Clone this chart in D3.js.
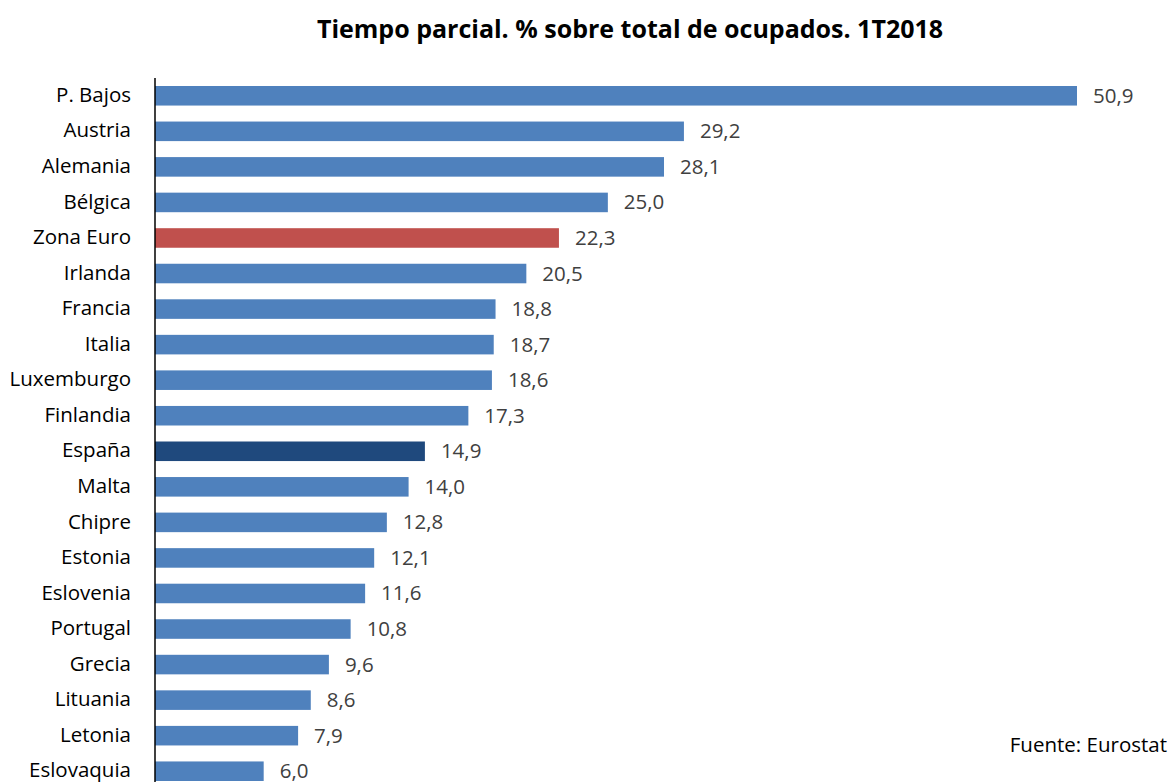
<!DOCTYPE html>
<html>
<head>
<meta charset="utf-8">
<script src="https://cdn.jsdelivr.net/npm/d3@7"></script>
<style>
  body { margin: 0; background: #fff; }
  text { font-family: "Open Sans", sans-serif; }
</style>
</head>
<body>
<script>
const countries = ['P. Bajos', 'Austria', 'Alemania', 'Bélgica', 'Zona Euro', 'Irlanda', 'Francia', 'Italia',
  'Luxemburgo', 'Finlandia', 'España', 'Malta', 'Chipre', 'Estonia', 'Eslovenia', 'Portugal', 'Grecia',
  'Lituania', 'Letonia', 'Eslovaquia'];
const values = [50.9, 29.2, 28.1, 25.0, 22.3, 20.5, 18.8, 18.7, 18.6, 17.3, 14.9, 14.0, 12.8, 12.1, 11.6, 10.8,
  9.6, 8.6, 7.9, 6.0];
const highlights = { 'Zona Euro': '#c0504d', 'España': '#1f497d' };

const width = 1168;
const height = 782;
const left = 155;

const data = countries.map((c, i) => ({ country: c, value: values[i] }));

const svg = d3.select('body').append('svg').attr('width', width).attr('height', height);

const xScale = d3.scaleLinear().domain([0, d3.max(values)]).range([left, 1077]);

const yScale = d3
  .scaleBand()
  .domain(countries)
  .range([78, 789])
  .paddingInner(0.45)
  .paddingOuter(0.225);

svg
  .append('text')
  .attr('x', 630)
  .attr('y', 38)
  .attr('text-anchor', 'middle')
  .attr('font-size', 25)
  .attr('font-weight', 'bold')
  .attr('fill', '#000')
  .text('Tiempo parcial. % sobre total de ocupados. 1T2018');

svg
  .selectAll('rect.bar')
  .data(data)
  .enter()
  .append('rect')
  .attr('class', 'bar')
  .attr('x', xScale(0))
  .attr('y', d => yScale(d.country))
  .attr('width', d => xScale(d.value) - xScale(0))
  .attr('height', yScale.bandwidth())
  .attr('fill', d => highlights[d.country] || '#4f81bd');

svg
  .selectAll('text.value')
  .data(data)
  .enter()
  .append('text')
  .attr('class', 'value')
  .attr('x', d => xScale(d.value) + 16)
  .attr('y', d => yScale(d.country) + yScale.bandwidth() / 2 + 7)
  .attr('font-size', 20.5)
  .attr('fill', '#404040')
  .text(d => d.value.toFixed(1).replace('.', ','));

const yAxis = svg
  .append('g')
  .attr('transform', `translate(${left}, 0)`)
  .call(d3.axisLeft(yScale).tickSize(0).tickPadding(24));

yAxis.select('.domain').attr('d', `M0,78V${height}`).attr('stroke', '#000').attr('stroke-width', 1.5);
yAxis
  .selectAll('.tick text')
  .attr('font-family', '"Open Sans", sans-serif')
  .attr('font-size', 20.5)
  .attr('dy', '0.3em')
  .attr('fill', '#000');

svg
  .append('text')
  .attr('x', 1167)
  .attr('y', 752)
  .attr('text-anchor', 'end')
  .attr('font-size', 20.5)
  .attr('fill', '#000')
  .text('Fuente: Eurostat');
</script>
</body>
</html>
